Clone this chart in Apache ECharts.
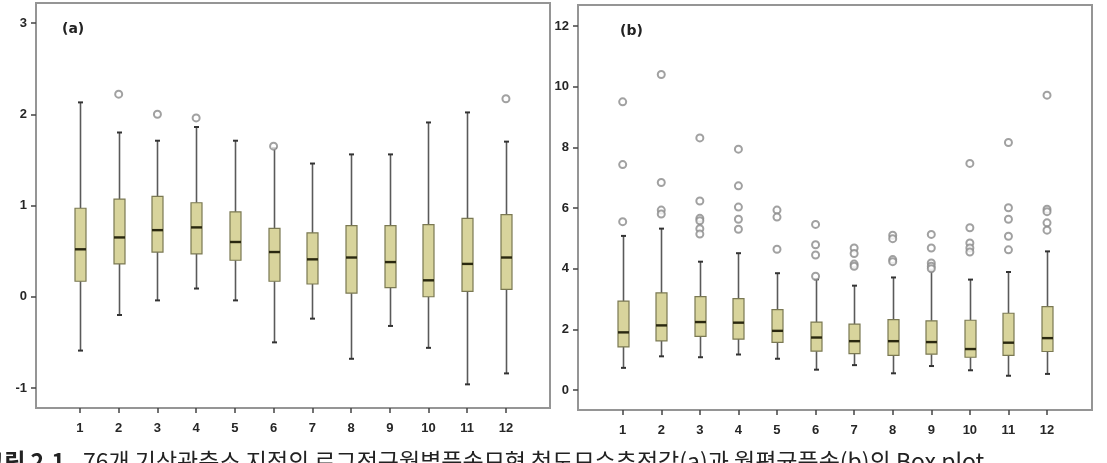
<!DOCTYPE html>
<html>
<head>
<meta charset="utf-8">
<script src="https://cdn.jsdelivr.net/npm/echarts@6.0.0/dist/echarts.min.js"></script>
<style>
  html, body { margin: 0; padding: 0; background: #fff; }
  #chart { width: 1107px; height: 463px; }
</style>
</head>
<body>
<div id="chart"></div>
<script>
const months = ['1', '2', '3', '4', '5', '6', '7', '8', '9', '10', '11', '12'];

// (a) 척도모수추정값
const aLow  = [-0.59, -0.20, -0.04, 0.09, -0.04, -0.50, -0.24, -0.68, -0.32, -0.56, -0.96, -0.84];
const aQ1   = [0.17, 0.36, 0.49, 0.47, 0.40, 0.17, 0.14, 0.04, 0.10, 0.00, 0.06, 0.08];
const aMed  = [0.52, 0.65, 0.73, 0.76, 0.60, 0.49, 0.41, 0.43, 0.38, 0.18, 0.36, 0.43];
const aQ3   = [0.97, 1.07, 1.10, 1.03, 0.93, 0.75, 0.70, 0.78, 0.78, 0.79, 0.86, 0.90];
const aHigh = [2.13, 1.80, 1.71, 1.86, 1.71, 1.63, 1.46, 1.56, 1.56, 1.91, 2.02, 1.70];
const aOut  = [[1, 2.22], [2, 2.00], [3, 1.96], [5, 1.65], [11, 2.17]];

// (b) 월평균풍속
const bLow  = [0.73, 1.11, 1.08, 1.17, 1.03, 0.67, 0.82, 0.55, 0.79, 0.65, 0.47, 0.53];
const bQ1   = [1.42, 1.62, 1.77, 1.68, 1.57, 1.28, 1.20, 1.14, 1.18, 1.08, 1.14, 1.27];
const bMed  = [1.90, 2.13, 2.24, 2.22, 1.95, 1.73, 1.61, 1.61, 1.58, 1.35, 1.56, 1.71];
const bQ3   = [2.93, 3.20, 3.08, 3.01, 2.65, 2.24, 2.17, 2.32, 2.28, 2.30, 2.53, 2.75];
const bHigh = [5.08, 5.32, 4.23, 4.51, 3.85, 3.65, 3.44, 3.71, 3.92, 3.64, 3.89, 4.57];
const bOut  = [
  [0, 9.50], [0, 7.43], [0, 5.55],
  [1, 10.40], [1, 6.84], [1, 5.93], [1, 5.80],
  [2, 8.31], [2, 6.23], [2, 5.66], [2, 5.58], [2, 5.32], [2, 5.14],
  [3, 7.94], [3, 6.73], [3, 6.03], [3, 5.63], [3, 5.30],
  [4, 5.93], [4, 5.70], [4, 4.64],
  [5, 5.46], [5, 4.79], [5, 4.45], [5, 3.75],
  [6, 4.68], [6, 4.50], [6, 4.15], [6, 4.08],
  [7, 5.10], [7, 4.99], [7, 4.30], [7, 4.23],
  [8, 5.13], [8, 4.68], [8, 4.19], [8, 4.08], [8, 4.00],
  [9, 7.47], [9, 5.35], [9, 4.85], [9, 4.68], [9, 4.55],
  [10, 8.16], [10, 6.01], [10, 5.63], [10, 5.07], [10, 4.62],
  [11, 9.72], [11, 5.96], [11, 5.88], [11, 5.51], [11, 5.27]
];

const boxRows = (lo, q1, med, q3, hi) => months.map((m, i) => [i, lo[i], q1[i], med[i], q3[i], hi[i]]);

function renderBox(params, api) {
  const x = api.value(0);
  const pLo = api.coord([x, api.value(1)]);
  const pQ1 = api.coord([x, api.value(2)]);
  const pMed = api.coord([x, api.value(3)]);
  const pQ3 = api.coord([x, api.value(4)]);
  const pHi = api.coord([x, api.value(5)]);
  const cx = Math.round(pLo[0]) + 0.5;
  const w = 11;
  const whisker = { stroke: '#5a5a5a', lineWidth: 1.6 };
  const cap = { stroke: '#333', lineWidth: 2 };
  return {
    type: 'group',
    children: [
      { type: 'line', shape: { x1: cx, y1: pLo[1], x2: cx, y2: pQ1[1] }, style: whisker },
      { type: 'line', shape: { x1: cx, y1: pQ3[1], x2: cx, y2: pHi[1] }, style: whisker },
      { type: 'line', shape: { x1: cx - 2.5, y1: pLo[1], x2: cx + 2.5, y2: pLo[1] }, style: cap },
      { type: 'line', shape: { x1: cx - 2.5, y1: pHi[1], x2: cx + 2.5, y2: pHi[1] }, style: cap },
      { type: 'rect', shape: { x: cx - w / 2, y: pQ3[1], width: w, height: pQ1[1] - pQ3[1] },
        style: { fill: '#d8d49c', stroke: '#7a7852', lineWidth: 1.2 } },
      { type: 'line', shape: { x1: cx - w / 2, y1: pMed[1], x2: cx + w / 2, y2: pMed[1] },
        style: { stroke: '#2a2810', lineWidth: 2.4 } }
    ]
  };
}

const labelStyle = { color: '#262626', fontSize: 13, fontWeight: 'bold', fontFamily: 'Liberation Sans' };
const tickStyle = { show: true, inside: false, length: 5, lineStyle: { color: '#444', width: 1.5 } };

const chart = echarts.init(document.getElementById('chart'));
chart.setOption({
  backgroundColor: '#fff',
  animation: false,
  title: [
    { text: '(a)', left: 62, top: 22, padding: 0,
      textStyle: { fontSize: 14, fontWeight: 'bold', color: '#222', fontFamily: 'DejaVu Sans' } },
    { text: '(b)', left: 620, top: 24, padding: 0,
      textStyle: { fontSize: 14, fontWeight: 'bold', color: '#222', fontFamily: 'DejaVu Sans' } },
    { text: '{b|그림 2.1.}  76개 기상관측소 지점의 로그정규월별풍속모형 척도모수추정값(a)과 월평균풍속(b)의 Box plot',
      left: -17, top: 450, padding: 0,
      textStyle: { fontSize: 23, fontWeight: 'normal', color: '#222', fontFamily: 'Noto Sans CJK KR',
        rich: { b: { fontSize: 23, fontWeight: 'bold', color: '#222', fontFamily: 'Noto Sans CJK KR' } } } }
  ],
  grid: [
    { left: 36, top: 3, width: 514, height: 405, show: true, borderColor: '#959595', borderWidth: 2, backgroundColor: 'transparent' },
    { left: 60.6, top: 23, width: 464.7, height: 365 },
    { left: 578, top: 5, width: 514, height: 405, show: true, borderColor: '#959595', borderWidth: 2, backgroundColor: 'transparent' },
    { left: 603.4, top: 26, width: 462.9, height: 364 }
  ],
  xAxis: [
    { gridIndex: 0, type: 'value', show: false },
    { gridIndex: 1, type: 'category', data: months, offset: 20,
      axisLine: { show: false, onZero: false }, axisTick: Object.assign({ alignWithLabel: true }, tickStyle),
      axisLabel: Object.assign({ margin: 14 }, labelStyle), splitLine: { show: false } },
    { gridIndex: 2, type: 'value', show: false },
    { gridIndex: 3, type: 'category', data: months, offset: 20,
      axisLine: { show: false, onZero: false }, axisTick: Object.assign({ alignWithLabel: true }, tickStyle),
      axisLabel: Object.assign({ margin: 14 }, labelStyle), splitLine: { show: false } }
  ],
  yAxis: [
    { gridIndex: 0, type: 'value', show: false },
    { gridIndex: 1, type: 'value', min: -1, max: 3, interval: 1, offset: 24.6,
      axisLine: { show: false }, axisTick: tickStyle,
      axisLabel: Object.assign({ margin: 9 }, labelStyle), splitLine: { show: false } },
    { gridIndex: 2, type: 'value', show: false },
    { gridIndex: 3, type: 'value', min: 0, max: 12, interval: 2, offset: 25.4,
      axisLine: { show: false }, axisTick: tickStyle,
      axisLabel: Object.assign({ margin: 9 }, labelStyle), splitLine: { show: false } }
  ],
  series: [
    { type: 'custom', xAxisIndex: 1, yAxisIndex: 1, renderItem: renderBox,
      encode: { x: 0, y: [1, 2, 3, 4, 5] }, data: boxRows(aLow, aQ1, aMed, aQ3, aHigh), z: 3 },
    { type: 'scatter', xAxisIndex: 1, yAxisIndex: 1, data: aOut, symbol: 'emptyCircle', symbolSize: 7,
      itemStyle: { color: '#8a8a8a', borderWidth: 1.6 }, z: 4 },
    { type: 'custom', xAxisIndex: 3, yAxisIndex: 3, renderItem: renderBox,
      encode: { x: 0, y: [1, 2, 3, 4, 5] }, data: boxRows(bLow, bQ1, bMed, bQ3, bHigh), z: 3 },
    { type: 'scatter', xAxisIndex: 3, yAxisIndex: 3, data: bOut, symbol: 'emptyCircle', symbolSize: 7,
      itemStyle: { color: '#8a8a8a', borderWidth: 1.6 }, z: 4 }
  ]
});
</script>
</body>
</html>
